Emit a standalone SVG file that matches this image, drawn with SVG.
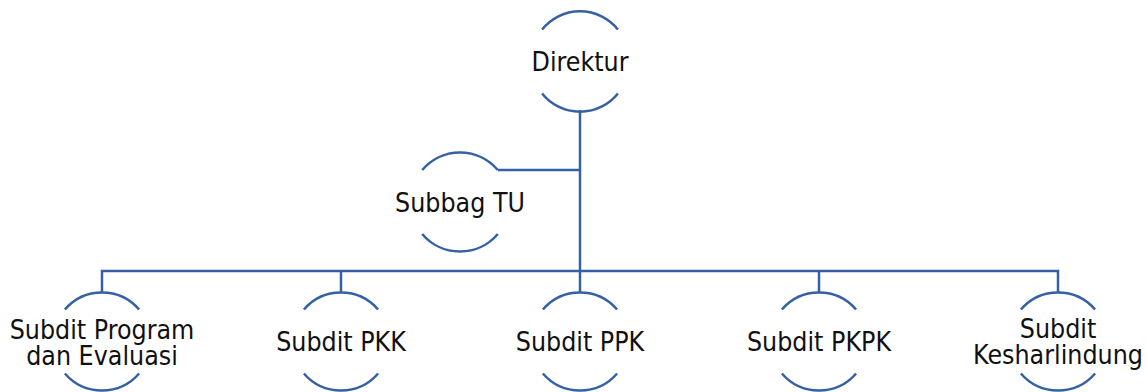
<svg xmlns="http://www.w3.org/2000/svg" width="1146" height="392" viewBox="0 0 1146 392">
<style>
.arc{fill:none;stroke:#3560A5;stroke-width:2.5}
.con{fill:none;stroke:#3560A5;stroke-width:2.5}
.t{font-family:"DejaVu Sans Condensed","DejaVu Sans",sans-serif;font-size:26.5px;fill:#111;text-anchor:middle}
</style>
<rect width="1146" height="392" fill="#fff"/>
<g id="connectors">
<path class="con" d="M580,110 V271"/>
<path class="con" d="M498,170 H580"/>
<path class="con" d="M102,292.5 V271 H1058 V292.5"/>
<path class="con" d="M341,271 V292.5 M580,271 V292.5 M819,271 V292.5"/>
</g>
<g id="direktur">
<path class="arc" d="M542.1,29.5 A48.5,48.5 0 0 1 617.9,29.5 M542.1,93.5 A48.5,48.5 0 0 0 617.9,93.5"/>
<text class="t" x="580" y="71">Direktur</text>
</g>
<g id="subbag-tu">
<path class="arc" d="M422.2,170 A49.5,49.5 0 0 1 497.8,170 M422.2,234 A49.5,49.5 0 0 0 497.8,234"/>
<text class="t" x="460" y="211.5">Subbag TU</text>
</g>
<g id="subdit-program">
<path class="arc" d="M64.9,309.5 A49,49 0 0 1 139.1,309.5 M64.9,373.5 A49,49 0 0 0 139.1,373.5"/>
<text class="t" x="102" y="339"><tspan x="102" y="339">Subdit Program</tspan><tspan x="102" y="364.7">dan Evaluasi</tspan></text>
</g>
<g id="subdit-pkk">
<path class="arc" d="M303.9,309.5 A49,49 0 0 1 378.1,309.5 M303.9,373.5 A49,49 0 0 0 378.1,373.5"/>
<text class="t" x="341" y="351">Subdit PKK</text>
</g>
<g id="subdit-ppk">
<path class="arc" d="M542.9,309.5 A49,49 0 0 1 617.1,309.5 M542.9,373.5 A49,49 0 0 0 617.1,373.5"/>
<text class="t" x="580" y="351">Subdit PPK</text>
</g>
<g id="subdit-pkpk">
<path class="arc" d="M781.9,309.5 A49,49 0 0 1 856.1,309.5 M781.9,373.5 A49,49 0 0 0 856.1,373.5"/>
<text class="t" x="819" y="351">Subdit PKPK</text>
</g>
<g id="subdit-kesharlindung">
<path class="arc" d="M1020.9,309.5 A49,49 0 0 1 1095.1,309.5 M1020.9,373.5 A49,49 0 0 0 1095.1,373.5"/>
<text class="t" x="1058" y="338"><tspan x="1058" y="338">Subdit</tspan><tspan x="1058" y="363.7">Kesharlindung</tspan></text>
</g>
</svg>
